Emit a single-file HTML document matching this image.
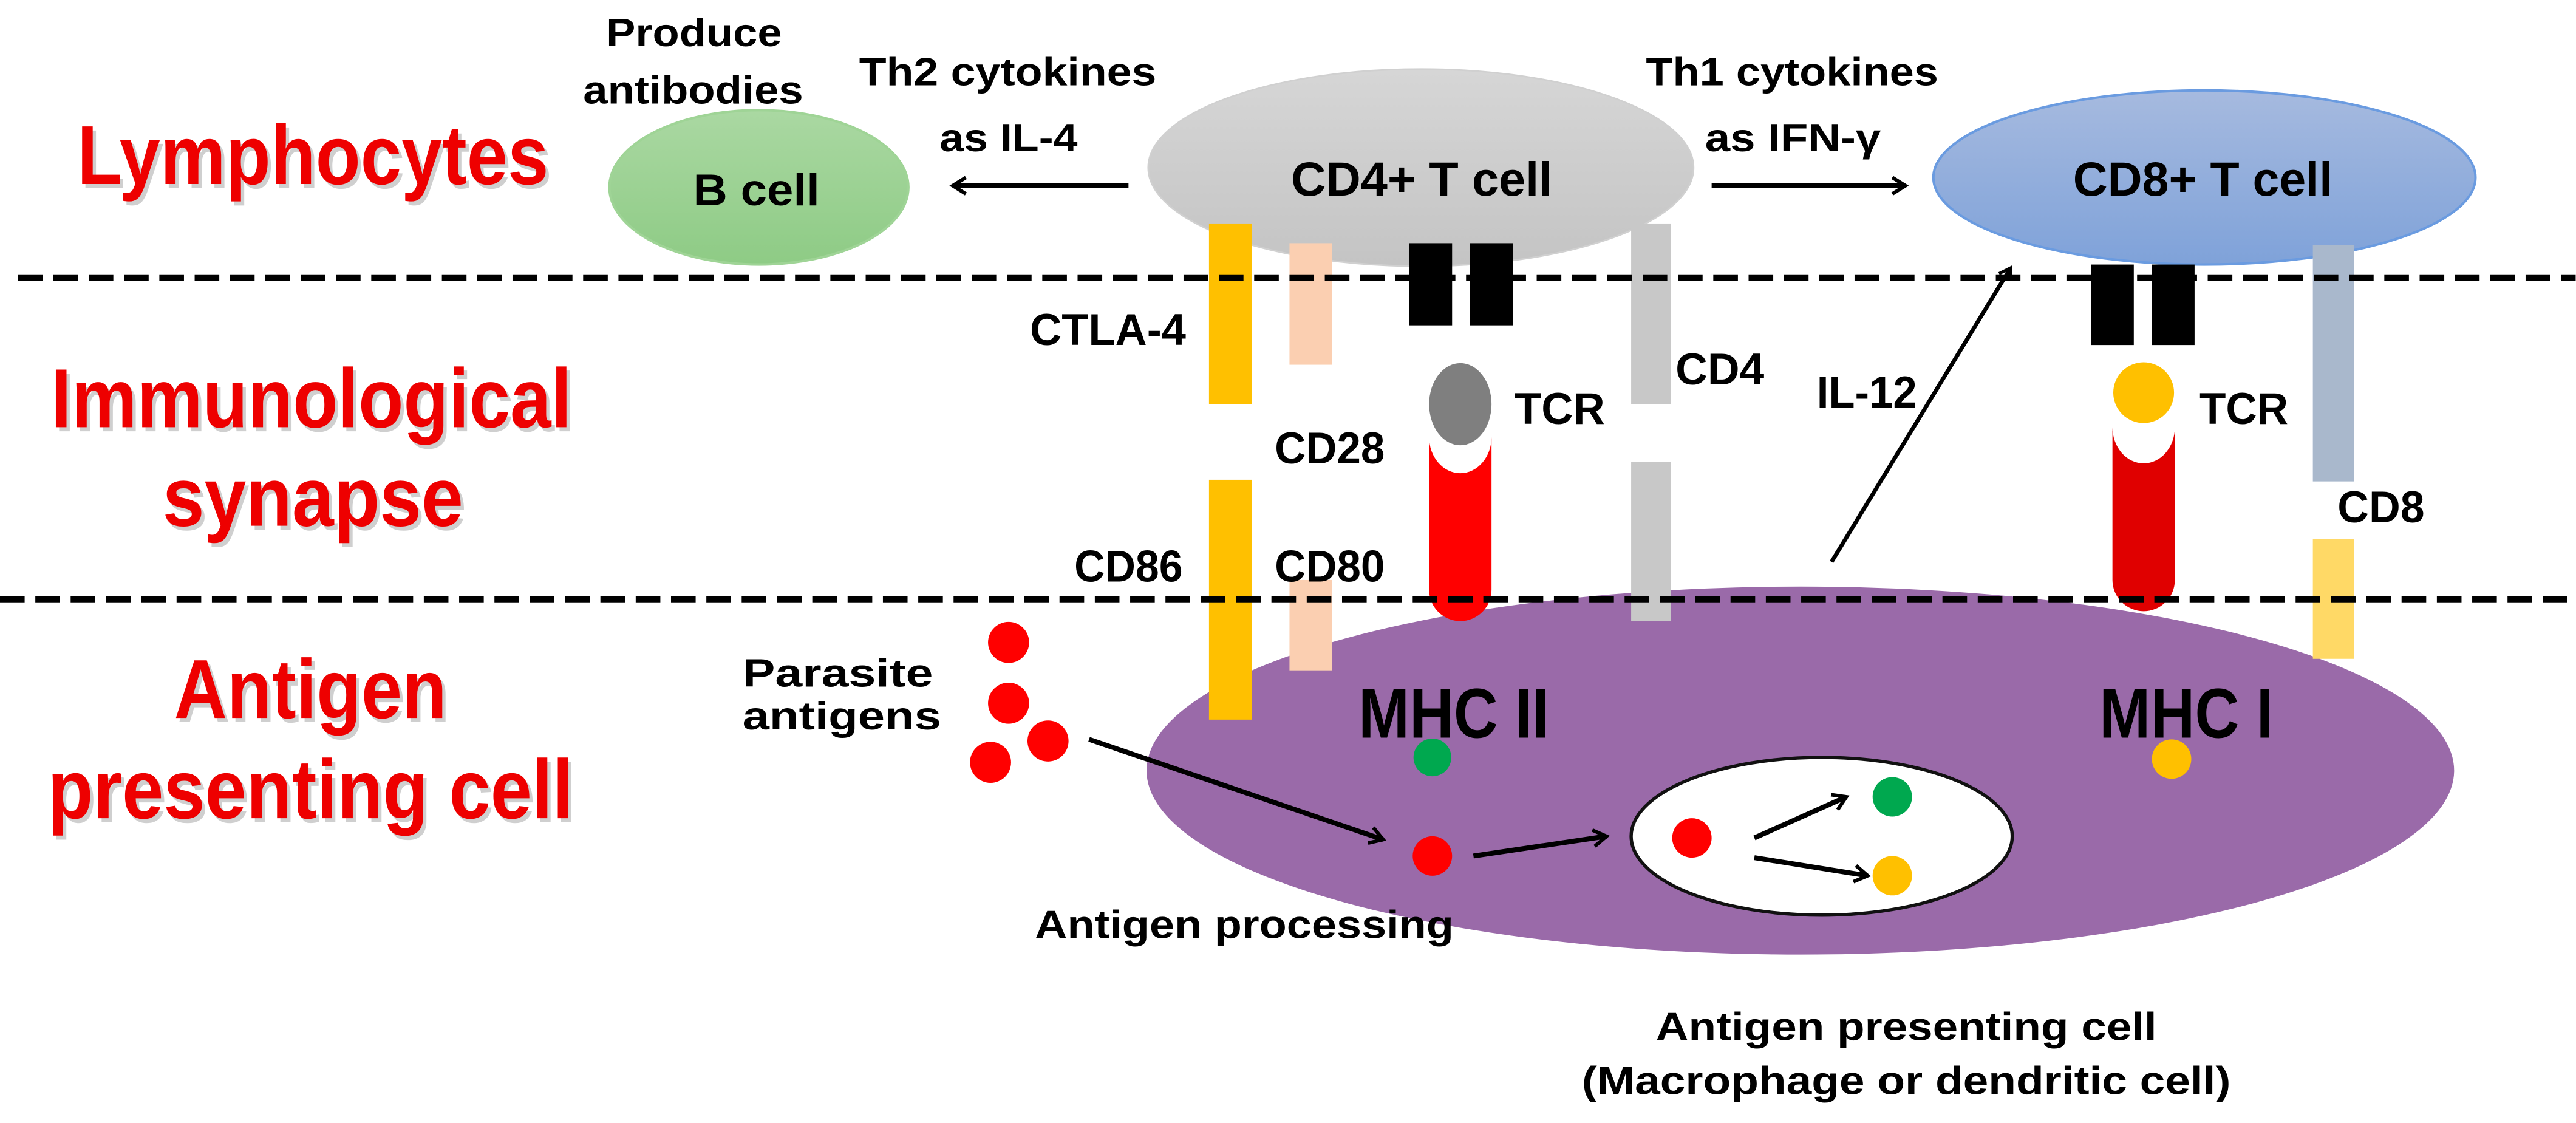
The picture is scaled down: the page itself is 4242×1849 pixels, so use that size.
<!DOCTYPE html>
<html><head><meta charset="utf-8"><style>
html,body{margin:0;padding:0;background:#fff;}
svg{display:block;}
text{font-family:"Liberation Sans",sans-serif;font-weight:bold;}
</style></head><body>
<svg width="4242" height="1849" viewBox="0 0 1568.2 683.5" xmlns="http://www.w3.org/2000/svg">
<defs>
<linearGradient id="gg" x1="0" y1="0" x2="0" y2="1"><stop offset="0" stop-color="#d6d6d6"/><stop offset="1" stop-color="#c4c4c4"/></linearGradient>
<linearGradient id="gb" x1="0" y1="0" x2="0" y2="1"><stop offset="0" stop-color="#aad8a2"/><stop offset="1" stop-color="#8ecb85"/></linearGradient>
<linearGradient id="gc" x1="0" y1="0" x2="0" y2="1"><stop offset="0" stop-color="#a6badf"/><stop offset="1" stop-color="#7fa2d9"/></linearGradient>
<marker id="ah" viewBox="0 0 12 12" refX="10" refY="6" markerWidth="4" markerHeight="4" orient="auto" markerUnits="strokeWidth">
<polyline points="2,1 10,6 2,11" fill="none" stroke="#000" stroke-width="2.2"/></marker>
</defs>

<!-- cells -->
<ellipse cx="462" cy="114" rx="91" ry="47" fill="url(#gb)" stroke="#9fd496" stroke-width="1.5"/>
<ellipse cx="865" cy="102" rx="166" ry="60" fill="url(#gg)" stroke="#d0d0d0" stroke-width="1"/>
<ellipse cx="1342" cy="108" rx="165" ry="53" fill="url(#gc)" stroke="#6a9be0" stroke-width="1.5"/>
<ellipse cx="1096" cy="469" rx="398" ry="112" fill="#9a6aa9"/>
<ellipse cx="1109" cy="509" rx="116" ry="48" fill="#fff" stroke="#111" stroke-width="2"/>

<!-- CD4 side molecules -->
<rect x="736" y="136" width="26" height="110" fill="#ffc000"/>
<rect x="736" y="292" width="26" height="146" fill="#ffc000"/>
<rect x="785" y="148" width="26" height="74" fill="#fbcfb1"/>
<rect x="785" y="353" width="26" height="55" fill="#fbcfb1"/>
<rect x="858" y="148" width="26" height="50" fill="#000"/>
<rect x="895" y="148" width="26" height="50" fill="#000"/>
<ellipse cx="889" cy="246" rx="19" ry="25" fill="#7f7f7f"/>
<path d="M870,266 L870,359 A19,19 0 0 0 908,359 L908,266 A19,22 0 0 1 870,266 Z" fill="#ff0000"/>
<rect x="993" y="136" width="24" height="110" fill="#c8c8c8"/>
<rect x="993" y="281" width="24" height="97" fill="#c8c8c8"/>

<!-- CD8 side molecules -->
<rect x="1273" y="161" width="26" height="49" fill="#000"/>
<rect x="1310" y="161" width="26" height="49" fill="#000"/>
<circle cx="1305" cy="239" r="18.5" fill="#ffc000"/>
<path d="M1286,260 L1286,353 A19,19 0 0 0 1324,353 L1324,260 A19,22 0 0 1 1286,260 Z" fill="#e00000"/>
<rect x="1408" y="149" width="25" height="144" fill="#a9b8cc"/>
<rect x="1408" y="328" width="25" height="73" fill="#ffd966"/>

<!-- dots -->
<circle cx="614" cy="391" r="12.5" fill="#ff0000"/>
<circle cx="614" cy="428" r="12.5" fill="#ff0000"/>
<circle cx="638" cy="451" r="12.5" fill="#ff0000"/>
<circle cx="603" cy="464" r="12.5" fill="#ff0000"/>
<circle cx="872" cy="461" r="11.5" fill="#00a84f"/>
<circle cx="872" cy="521" r="12" fill="#ff0000"/>
<circle cx="1030" cy="510" r="12" fill="#ff0000"/>
<circle cx="1152" cy="485" r="12" fill="#00a84f"/>
<circle cx="1152" cy="533" r="12" fill="#ffc000"/>
<circle cx="1322" cy="462" r="12" fill="#ffc000"/>

<!-- dashed lines -->
<line x1="11" y1="169" x2="1568" y2="169" stroke="#000" stroke-width="4" stroke-dasharray="15 6.5"/>
<line x1="0" y1="365" x2="1568" y2="365" stroke="#000" stroke-width="4" stroke-dasharray="15 6.5"/>

<!-- arrows -->
<line x1="687" y1="113" x2="580" y2="113" stroke="#000" stroke-width="3" marker-end="url(#ah)"/>
<line x1="1042" y1="113" x2="1160" y2="113" stroke="#000" stroke-width="3" marker-end="url(#ah)"/>
<line x1="1115" y1="342" x2="1224" y2="163" stroke="#000" stroke-width="2.5" marker-end="url(#ah)"/>
<line x1="663" y1="450" x2="842" y2="511" stroke="#000" stroke-width="3" marker-end="url(#ah)"/>
<line x1="897" y1="521" x2="978" y2="509" stroke="#000" stroke-width="3" marker-end="url(#ah)"/>
<line x1="1068" y1="510" x2="1124" y2="485" stroke="#000" stroke-width="3" marker-end="url(#ah)"/>
<line x1="1068" y1="522" x2="1137" y2="533" stroke="#000" stroke-width="3" marker-end="url(#ah)"/>

<!-- red headings -->
<g font-size="51" lengthAdjust="spacingAndGlyphs">
<g fill="#b0b0b0" opacity="0.6" transform="translate(2,2.5)">
<text x="47" y="112" textLength="287" lengthAdjust="spacingAndGlyphs">Lymphocytes</text>
<text x="31" y="260" textLength="317" lengthAdjust="spacingAndGlyphs">Immunological</text>
<text x="99" y="320" textLength="183" lengthAdjust="spacingAndGlyphs">synapse</text>
<text x="106" y="437" textLength="166" lengthAdjust="spacingAndGlyphs">Antigen</text>
<text x="29" y="498" textLength="320" lengthAdjust="spacingAndGlyphs">presenting cell</text>
</g>
<g fill="#ee0000">
<text x="47" y="112" textLength="287" lengthAdjust="spacingAndGlyphs">Lymphocytes</text>
<text x="31" y="260" textLength="317" lengthAdjust="spacingAndGlyphs">Immunological</text>
<text x="99" y="320" textLength="183" lengthAdjust="spacingAndGlyphs">synapse</text>
<text x="106" y="437" textLength="166" lengthAdjust="spacingAndGlyphs">Antigen</text>
<text x="29" y="498" textLength="320" lengthAdjust="spacingAndGlyphs">presenting cell</text>
</g>
</g>

<!-- black labels -->
<g fill="#000" font-size="24">
<text x="369" y="28" textLength="107" lengthAdjust="spacingAndGlyphs">Produce</text>
<text x="355" y="63" textLength="134" lengthAdjust="spacingAndGlyphs">antibodies</text>
<text x="523" y="52" textLength="181" lengthAdjust="spacingAndGlyphs">Th2 cytokines</text>
<text x="572" y="92" textLength="84" lengthAdjust="spacingAndGlyphs">as IL-4</text>
<text x="1002" y="52" textLength="178" lengthAdjust="spacingAndGlyphs">Th1 cytokines</text>
<text x="1038" y="92" textLength="107" lengthAdjust="spacingAndGlyphs">as IFN-γ</text>
<text x="422" y="125" font-size="27" textLength="77" lengthAdjust="spacingAndGlyphs">B cell</text>
<text x="786" y="119" font-size="29" textLength="159" lengthAdjust="spacingAndGlyphs">CD4+ T cell</text>
<text x="1262" y="119" font-size="29" textLength="158" lengthAdjust="spacingAndGlyphs">CD8+ T cell</text>
<text x="627" y="210" font-size="27" textLength="95" lengthAdjust="spacingAndGlyphs">CTLA-4</text>
<text x="776" y="282" font-size="27" textLength="67" lengthAdjust="spacingAndGlyphs">CD28</text>
<text x="654" y="354" font-size="27" textLength="66" lengthAdjust="spacingAndGlyphs">CD86</text>
<text x="776" y="354" font-size="27" textLength="67" lengthAdjust="spacingAndGlyphs">CD80</text>
<text x="922" y="258" font-size="27" textLength="55" lengthAdjust="spacingAndGlyphs">TCR</text>
<text x="1020" y="234" font-size="27" textLength="54" lengthAdjust="spacingAndGlyphs">CD4</text>
<text x="1106" y="248" font-size="27" textLength="61" lengthAdjust="spacingAndGlyphs">IL-12</text>
<text x="1339" y="258" font-size="27" textLength="54" lengthAdjust="spacingAndGlyphs">TCR</text>
<text x="1423" y="318" font-size="27" textLength="53" lengthAdjust="spacingAndGlyphs">CD8</text>
<text x="827" y="449" font-size="43" textLength="116" lengthAdjust="spacingAndGlyphs">MHC II</text>
<text x="1278" y="449" font-size="43" textLength="106" lengthAdjust="spacingAndGlyphs">MHC I</text>
<text x="452" y="418" textLength="116" lengthAdjust="spacingAndGlyphs">Parasite</text>
<text x="452" y="444" textLength="121" lengthAdjust="spacingAndGlyphs">antigens</text>
<text x="630" y="571" textLength="255" lengthAdjust="spacingAndGlyphs">Antigen processing</text>
<text x="1008" y="633" textLength="305" lengthAdjust="spacingAndGlyphs">Antigen presenting cell</text>
<text x="963" y="666" textLength="395" lengthAdjust="spacingAndGlyphs">(Macrophage or dendritic cell)</text>
</g>
</svg>
</body></html>
